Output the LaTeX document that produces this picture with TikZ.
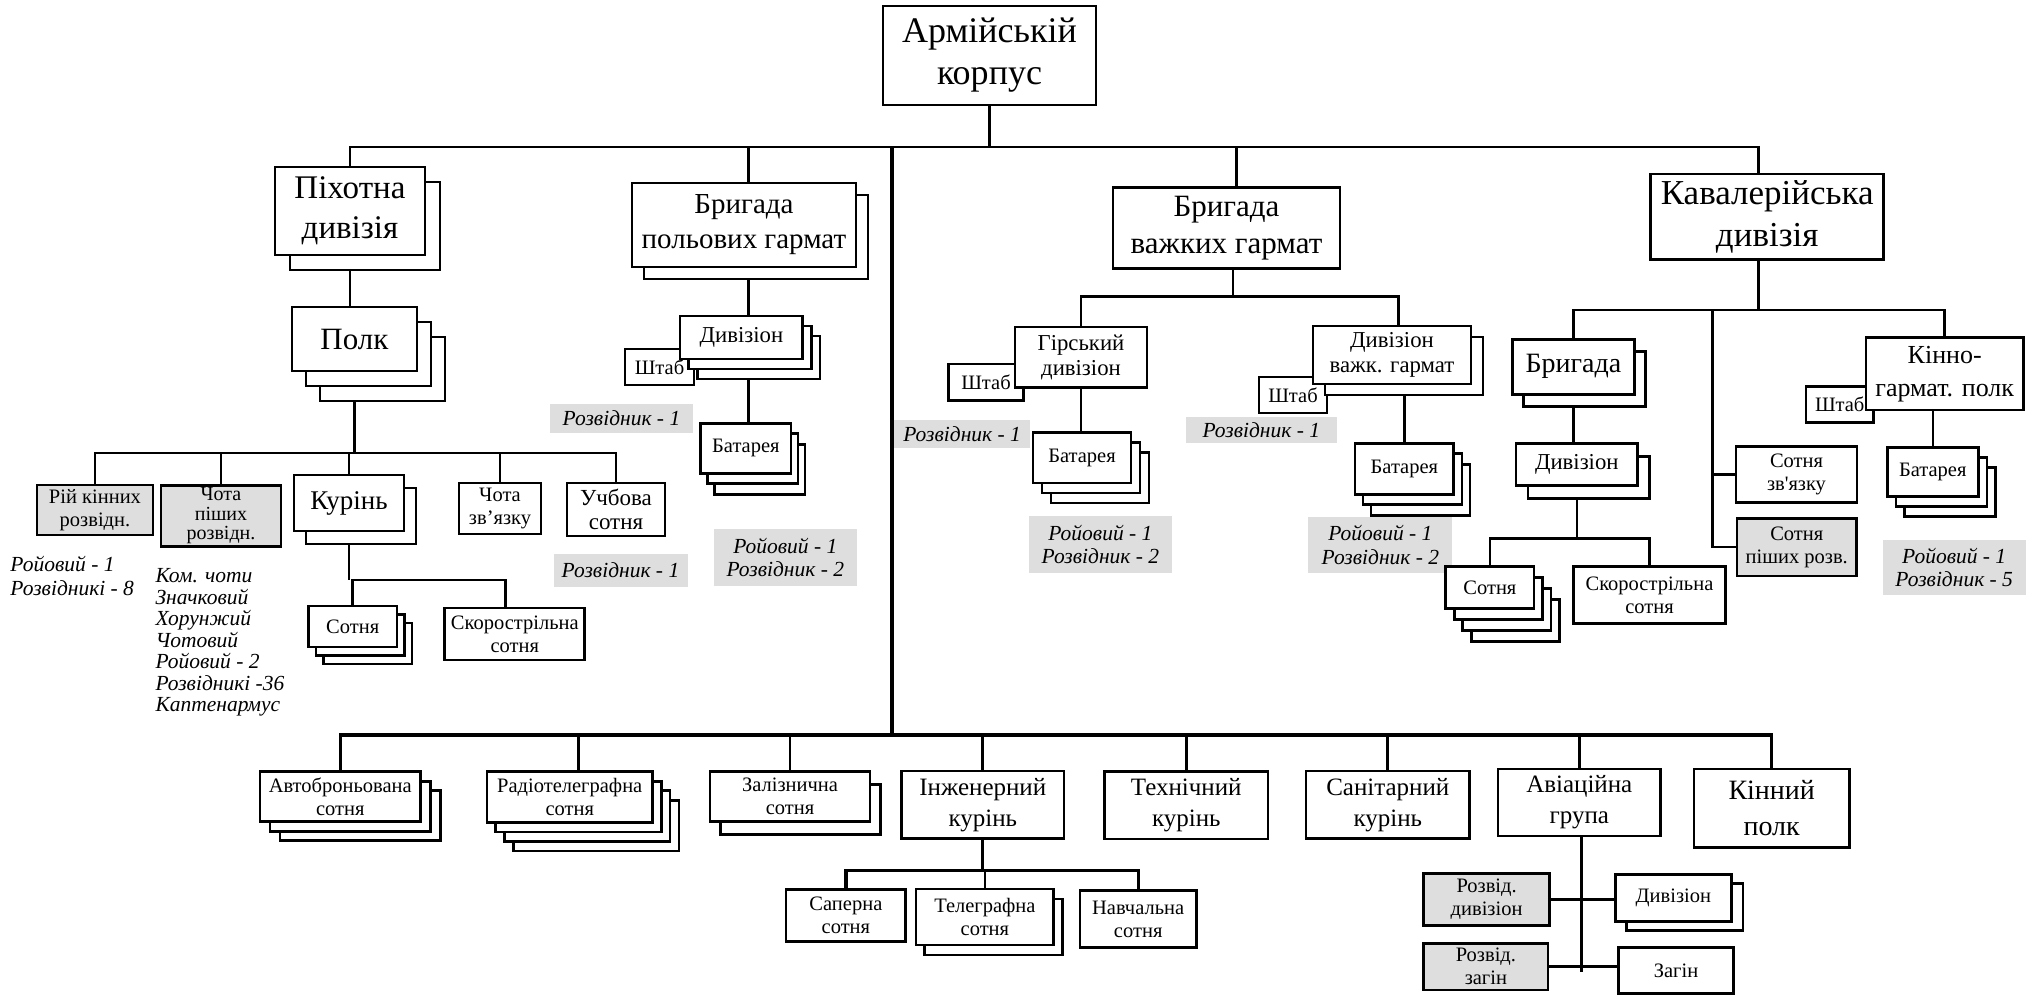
\documentclass[tikz,border=0pt]{standalone}
\usepackage{fontspec}
\setmainfont{Liberation Serif}
\usetikzlibrary{shadows,backgrounds}
\newcommand{\fs}[2]{\fontsize{#1}{#2}\selectfont}

\begin{document}
\begin{tikzpicture}[x=0.4pt,y=-0.4pt]
\tikzstyle{box}=[rectangle, draw=black, fill=white, line width=1.05pt, inner sep=0pt, align=center, font=\fs{8.2pt}{9.2pt}]
\tikzstyle{gbox}=[box, fill=black!13]
\tikzstyle{mid}=[font=\fs{9.1pt}{10pt}]
\tikzstyle{low}=[font=\fs{10pt}{12.4pt}]
\tikzstyle{note}=[rectangle, fill=black!13, inner sep=0pt, align=center, font=\fs{8.6pt}{9.5pt}\itshape]
\tikzstyle{txt}=[inner sep=0pt, align=left, font=\fs{8.6pt}{9.3pt}\itshape]
\tikzstyle{connect}=[line width=1.05pt]
\tikzset{wh/.style 2 args={minimum width=#1*0.4pt, minimum height=#2*0.4pt},
  back/.style 2 args={copy shadow={shadow xshift=#1*0.4pt, shadow yshift=-#2*0.4pt, draw=black, fill=white, line width=1.05pt}}}
\useasboundingbox (0,0) rectangle (2035,995);

% corps and divisions
\node[box, wh={213}{99}, font=\fs{14.4pt}{16.8pt}] (corps) at (989.5,55.5) {Армійській\\корпус};
\node[box, back={15}{15}, wh={150}{88}, font=\fs{13.2pt}{16pt}] (p_div) at (350,211) {Піхотна\\дивізія};
\node[box, back={12}{12}, wh={224}{84}, font=\fs{11.6pt}{14pt}] (br_pol) at (744,225) {Бригада\\польових гармат};
\node[box, wh={227}{81}, font=\fs{12.4pt}{14.8pt}] (br_vaz) at (1226.5,228.3) {Бригада\\важких гармат};
\node[box, wh={233}{85.3}, font=\fs{14pt}{16.8pt}] (cav) at (1767.2,216.7) {Кавалерійська\\дивізія};

% infantry
\node[box, back={28}{30}, back={14}{15}, wh={125}{64}, font=\fs{12.4pt}{14pt}] (polk) at (354.5,339) {Полк};
\node[gbox, wh={116}{50}] (rij) at (95,510) {Рій кінних\\розвідн.};
\node[gbox, wh={120}{61}, font=\fs{8pt}{7.8pt}] (chotap) at (221,516) {Чота\\піших\\розвідн.};
\node[box, back={12}{13}, wh={110}{56}, font=\fs{10.8pt}{12pt}] (kur) at (349,503) {Курінь};
\node[box, wh={82}{51}] (chotaz) at (500,508.5) {Чота\\зв’язку};
\node[box, wh={98}{53}, font=\fs{9.2pt}{9.8pt}] (uchb) at (616,509.5) {Учбова\\сотня};
\node[box, back={15}{17}, back={7.5}{8.5}, wh={88.5}{41}] (sot1) at (352.75,626.5) {Сотня};
\node[box, wh={140}{52}] (skor1) at (514.8,634) {Скорострільна\\сотня};
\node[txt, anchor=north west] (t_rij) at (10,556) {Ройовий - 1\\Розвідникі - 8};
\node[txt, anchor=north west, font=\fs{8.6pt}{8.6pt}\itshape] (t_chot) at (155,568) {Ком. чоти\\Значковий\\Хорунжий\\Чотовий\\Ройовий - 2\\Розвідникі -36\\Каптенармус};
\node[note, wh={134}{33}] (n_uchb) at (620.5,570.3) {Розвідник - 1};

% field guns
\node[box, wh={69}{36}] (shtab1) at (659.5,367) {Штаб};
\node[box, mid, back={17.4}{20}, back={8.7}{10}, wh={122.7}{43}] (div1) at (741.4,337.5) {Дивізіон};
\node[box, back={14}{21}, back={7}{10.5}, wh={90.3}{50}] (bat1) at (745.9,448.3) {Батарея};
\node[note, wh={143}{28.7}] (n_pol) at (621.5,418.4) {Розвідник - 1};
\node[note, wh={142.6}{56.7}] (n_bat1) at (785.3,557.4) {Ройовий - 1\\Розвідник - 2};

% heavy guns
\node[box, wh={75}{36.7}] (shtab2) at (986,382.4) {Штаб};
\node[box, mid, wh={132}{60.7}] (girs) at (1081,357.4) {Гірський\\дивізіон};
\node[box, back={18}{20}, back={9}{10}, wh={98}{50.3}] (bat2) at (1082,457.9) {Батарея};
\node[note, wh={135.4}{27.7}] (n_girs) at (962.1,433.9) {Розвідник - 1};
\node[note, wh={142.8}{56.7}] (n_bat2) at (1100.4,544.4) {Ройовий - 1\\Розвідник - 2};
\node[box, wh={68}{36}] (shtab3) at (1293,395) {Штаб};
\node[box, mid, back={12}{11}, wh={158}{58}] (divvaz) at (1392,355) {Дивізіон\\важк. гармат};
\node[box, back={16}{21}, back={8}{10.5}, wh={98.8}{51}] (bat3) at (1404.4,468.8) {Батарея};
\node[note, wh={150.6}{26}] (n_vaz) at (1261.3,429.7) {Розвідник - 1};
\node[note, wh={144}{56}] (n_bat3) at (1380.4,544.7) {Ройовий - 1\\Розвідник - 2};

% cavalry
\node[box, back={11}{12.5}, wh={122}{55}, font=\fs{11.2pt}{12pt}] (brig) at (1573.4,366.8) {Бригада};
\node[box, mid, back={12}{13}, wh={121.6}{42.4}] (div2) at (1576.8,464.5) {Дивізіон};
\node[box, back={25.5}{33}, back={17}{22}, back={8.5}{11}, wh={88.3}{41.6}] (sot2) at (1489.9,587.5) {Сотня};
\node[box, wh={152.4}{56.6}] (skor2) at (1649.5,595) {Скорострільна\\сотня};
\node[box, wh={121}{55.6}] (sotz) at (1796.5,474.5) {Сотня\\зв\textquotesingle язку};
\node[gbox, wh={119.5}{57.7}] (sotp) at (1796.75,547.15) {Сотня\\піших розв.};
\node[box, wh={67.3}{35.6}] (shtab4) at (1839.7,404.5) {Штаб};
\node[box, wh={157.3}{72.5}, font=\fs{10.4pt}{13.2pt}] (kinno) at (1944.7,373.7) {Кінно-\\гармат. полк};
\node[box, back={17.4}{20}, back={8.7}{10}, wh={91}{49.4}] (bat4) at (1932.8,472) {Батарея};
\node[note, wh={143}{55}] (n_bat4) at (1954.2,567.5) {Ройовий - 1\\Розвідник - 5};

% corps units
\node[box, back={20}{19}, back={10}{9.5}, wh={160.7}{50}] (avto) at (340.25,796.7) {Автоброньована\\сотня};
\node[box, back={26.4}{28.5}, back={17.6}{19}, back={8.8}{9.5}, wh={165.5}{50.6}] (radio) at (569.75,797) {Радіотелеграфна\\сотня};
\node[box, back={10.4}{12.6}, wh={160}{50}] (zaliz) at (790,796.7) {Залізнична\\сотня};
\node[box, low, wh={162.4}{67.3}] (inzh) at (982.8,804.7) {Інженерний\\курінь};
\node[box, low, wh={163.4}{67.3}] (tech) at (1186.3,805.4) {Технічний\\курінь};
\node[box, low, wh={163.6}{67.3}] (sanit) at (1387.8,804.7) {Санітарний\\курінь};
\node[box, low, wh={162.7}{67}] (avia) at (1579.3,802.5) {Авіаційна\\група};
\node[box, wh={155.8}{78.3}, font=\fs{11.2pt}{14.4pt}] (kinp) at (1771.7,808.2) {Кінний\\полк};
\node[box, wh={119.7}{52.4}] (saper) at (845.9,915.5) {Саперна\\сотня};
\node[box, back={8.6}{10}, wh={137.8}{56}] (teleg) at (984.9,917) {Телеграфна\\сотня};
\node[box, wh={116.4}{57}] (navch) at (1138.2,919.2) {Навчальна\\сотня};
\node[gbox, wh={125.7}{52.4}] (rdiv) at (1486.6,899.5) {Розвід.\\дивізіон};
\node[box, back={11.3}{9}, wh={116.2}{47.4}] (div3) at (1673.4,898) {Дивізіон};
\node[gbox, wh={124.3}{46.7}] (rzag) at (1485.9,966.7) {Розвід.\\загін};
\node[box, wh={115}{45.6}] (zagin) at (1676,970.5) {Загін};

\coordinate (top_bus) at (0,147);
\coordinate (sp_t) at (892,147);
\coordinate (sp_b) at (892,735);
\coordinate (polk_bus) at (0,453);
\coordinate (kur_bus) at (0,580);
\coordinate (pol_x) at (748.5,0);
\coordinate (vaz_bus) at (0,296.7);
\coordinate (cav_bus) at (0,310);
\coordinate (cav_x) at (1712.6,310);
\coordinate (div2_bus) at (0,538.3);
\coordinate (bot_bus) at (0,735);
\coordinate (inzh_bus) at (0,870.7);
\coordinate (avia_end) at (1581.4,971.7);

\begin{scope}[on background layer={connect}]
\draw (corps.south) -- (corps.south |- top_bus);
\draw (p_div.north) |- ([xshift=-3.5pt]cav.north |- top_bus) -- ([xshift=-3.5pt]cav.north);
\draw (br_pol.north -| pol_x) -- (pol_x |- top_bus);
\draw ([xshift=4pt]br_vaz.north) -- ([xshift=4pt]br_vaz.north |- top_bus);
\draw[line width=1.3pt] (sp_t) -- (sp_b);
%
\draw (p_div.south) -- (p_div.south |- polk.north);
\draw (polk.south) -- (polk.south |- polk_bus);
\draw (rij.north) |- (uchb.north |- polk_bus) -- (uchb.north);
\draw (chotap.north) -- (chotap.north |- polk_bus);
\draw (kur.north) -- (kur.north |- polk_bus);
\draw (chotaz.north) -- (chotaz.north |- polk_bus);
\draw (kur.south) -- (kur.south |- kur_bus);
\draw (sot1.north) |- ([xshift=-3.6pt]skor1.north |- kur_bus) -- ([xshift=-3.6pt]skor1.north);
%
\draw (br_pol.south -| pol_x) -- (bat1.north -| pol_x);
%
\draw ([xshift=2.6pt]br_vaz.south) -- ([xshift=2.6pt]br_vaz.south |- vaz_bus);
\draw (girs.north) |- ([xshift=2.6pt]divvaz.north |- vaz_bus) -- ([xshift=2.6pt]divvaz.north);
\draw (girs.south) -- (girs.south |- bat2.north);
\draw (bat3.north) -- (bat3.north |- divvaz.south);
%
\draw ([xshift=-3.5pt]cav.south) -- ([xshift=-3.5pt]cav.south |- cav_bus);
\draw (brig.north) |- (kinno.north |- cav_bus) -- (kinno.north);
\draw (brig.south) -- (brig.south |- div2.north);
\draw (div2.south) -- (div2.south |- div2_bus);
\draw (sot2.north) |- (skor2.north |- div2_bus) -- (skor2.north);
\draw (cav_x) |- (sotz.west);
\draw (cav_x) |- (sotp.west);
\draw (bat4.north) -- (bat4.north |- kinno.south);
%
\draw[line width=1.3pt] (avto.north) |- (kinp.north |- bot_bus) -- (kinp.north);
\draw ([xshift=3.5pt]radio.north) -- ([xshift=3.5pt]radio.north |- bot_bus);
\foreach \u in {zaliz, inzh, tech, sanit, avia}
  \draw (\u.north) -- (\u.north |- bot_bus);
\draw (inzh.south) -- (inzh.south |- inzh_bus);
\draw[line width=1.3pt] (saper.north) |- (navch.north |- inzh_bus) -- (navch.north);
\draw (teleg.north) -- (teleg.north |- inzh_bus);
\draw (avia.south -| avia_end) -- (avia_end);
\draw (rdiv.east) -- (rdiv.east -| div3.west);
\draw (rzag.east) -- (rzag.east -| zagin.west);
\end{scope}
\end{tikzpicture}
\end{document}
